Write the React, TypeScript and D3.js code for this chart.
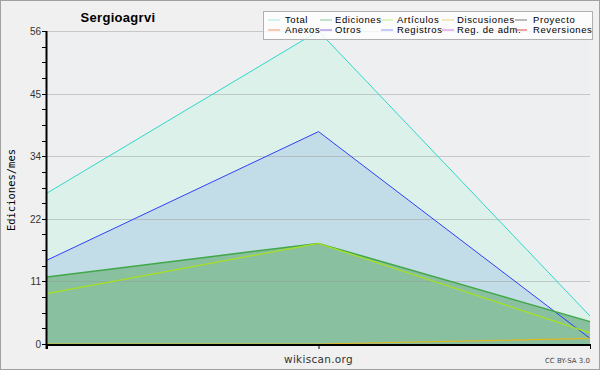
import React from 'react';
import * as d3 from 'd3';

// datos
const months = ['a', 'b', 'c'];
const total = [27, 56, 5];
const registros = [15, 38, 1];
const ediciones = [12, 18, 4];
const articulos = [9, 18, 2];
const discusiones = [0, 0, 1];
const yTicks = [0, 11.2, 22.4, 33.6, 44.8, 56];

const legendRow1 = ['Total', 'Ediciones', 'Artículos', 'Discusiones', 'Proyecto'];
const legendRow2 = ['Anexos', 'Otros', 'Registros', 'Reg. de adm.', 'Reversiones'];
const legendColors1 = ['#a8e8e0', '#88c898', '#c8ec80', '#f0d480', '#787878'];
const legendColors2 = ['#f09868', '#9068e0', '#8898f0', '#d078e0', '#e04848'];
const legendX = [268, 320, 381, 442, 515];
const legendTextX = [285, 335, 397, 457, 533];

const W = 600;
const H = 370;
const margin = { top: 31, right: 10, bottom: 26, left: 47 };

export default function App() {
  const x = d3
    .scalePoint<string>()
    .domain(months)
    .range([margin.left, W - margin.right]);
  const y = d3
    .scaleLinear()
    .domain([0, 56])
    .range([H - margin.bottom, margin.top]);

  const area = (vals: number[]) =>
    d3
      .area<number>()
      .x((_, i) => x(months[i])!)
      .y0(y(0))
      .y1(d => y(d))(vals) || '';
  const line = (vals: number[]) =>
    d3
      .line<number>()
      .x((_, i) => x(months[i])!)
      .y(d => y(d))(vals) || '';

  const minor = d3.range(0, 56.01, 2.8);
  const font = 'DejaVu Sans, sans-serif';
  const narrow = 'Liberation Sans, Arial, sans-serif';

  return (
    <svg
      width={W}
      height={H}
      style={{ position: 'absolute', left: 0, top: 0, display: 'block' }}
      fontFamily={font}
    >
      <rect x={0.5} y={0.5} width={W - 1} height={H - 1} fill="#f0f0f0" stroke="#a0a0a0" />
      <rect
        x={margin.left}
        y={margin.top}
        width={W - margin.left - margin.right}
        height={H - margin.top - margin.bottom}
        fill="#eeeff1"
      />

      {/* áreas */}
      <path d={area(total)} fill="#dbf1ea" />
      <path d={area(registros)} fill="#c3dde8" />
      <path d={area(ediciones)} fill="#88c0a0" />

      {/* rejilla */}
      {yTicks.slice(1).map(t => (
        <line
          key={t}
          x1={margin.left}
          x2={W - margin.right}
          y1={Math.round(y(t)) + 0.5}
          y2={Math.round(y(t)) + 0.5}
          stroke="#9a9a9a"
          strokeOpacity={0.45}
        />
      ))}

      {/* líneas */}
      <path d={line(total)} fill="none" stroke="#30d8c8" strokeWidth={1} />
      <path d={line(registros)} fill="none" stroke="#3040f8" strokeWidth={1} />
      <path d={line(ediciones)} fill="none" stroke="#40a848" strokeWidth={1.5} />
      <path d={line(articulos)} fill="none" stroke="#a8e020" strokeWidth={1.2} />
      <path d={line(discusiones)} fill="none" stroke="#e0b820" strokeWidth={1.2} />

      {/* eje y */}
      <line x1={margin.left - 0.5} x2={margin.left - 0.5} y1={margin.top} y2={H - margin.bottom + 5} stroke="#000" strokeWidth={2} />
      {minor.map(t => (
        <line
          key={t}
          x1={margin.left - 5}
          x2={margin.left}
          y1={Math.round(y(t)) + 0.5}
          y2={Math.round(y(t)) + 0.5}
          stroke="#000"
        />
      ))}
      {yTicks.map(t => (
        <text
          key={t}
          x={margin.left - 6}
          y={y(t) + 4}
          textAnchor="end"
          fontSize={10}
          fontFamily={narrow}
          fill="#333"
        >
          {Math.round(t)}
        </text>
      ))}

      {/* eje x */}
      <line x1={margin.left - 1} x2={W - margin.right} y1={H - margin.bottom + 1} y2={H - margin.bottom + 1} stroke="#000" strokeWidth={2} />
      {months.map(m => (
        <line key={m} x1={x(m)! + 0.5} x2={x(m)! + 0.5} y1={H - margin.bottom} y2={H - margin.bottom + 5} stroke="#000" />
      ))}
      <text x={x('b')} y={363} textAnchor="middle" fontSize={10.5} fill="#333" letterSpacing={0.3}>
        wikiscan.org
      </text>
      <text x={590} y={363} textAnchor="end" fontSize={7} fill="#444">
        CC BY-SA 3.0
      </text>

      <text
        transform="translate(15,190) rotate(-90)"
        textAnchor="middle"
        fontSize={10.5}
        fontFamily="DejaVu Sans Mono, monospace"
        fill="#000"
      >
        Ediciones/mes
      </text>
      <text x={118} y={22} textAnchor="middle" fontSize={13} fontWeight="bold" fontFamily={narrow} fill="#000" letterSpacing={0.3}>
        Sergioagrvi
      </text>

      {/* leyenda */}
      <rect x={263.5} y={11.5} width={329} height={28} fill="#ffffff" fillOpacity={0.8} stroke="#b0b0b0" />
      {[legendRow1, legendRow2].map((row, r) =>
        row.map((label, i) => {
          const cy = 19.5 + r * 10;
          const col = r === 0 ? legendColors1[i] : legendColors2[i];
          return (
            <g key={label}>
              <line x1={legendX[i]} x2={legendX[i] + 12} y1={cy + 0.5} y2={cy + 0.5} stroke={col} />
              <text x={legendTextX[i]} y={cy + 3.5} fontSize={9.5} fontFamily={narrow} fill="#000" letterSpacing={0.6}>
                {label}
              </text>
            </g>
          );
        })
      )}
    </svg>
  );
}
